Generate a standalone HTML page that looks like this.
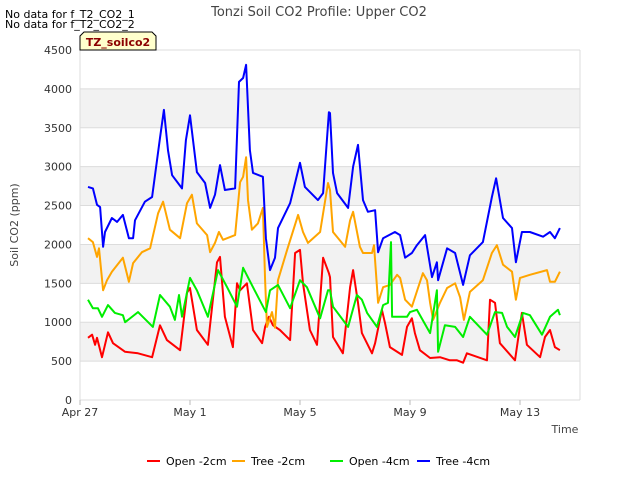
<!DOCTYPE html>
<html><head><meta charset="utf-8"><style>
body{margin:0;background:#fff;font-family:"Liberation Sans","DejaVu Sans",sans-serif;}
svg text{font-family:"DejaVu Sans","Liberation Sans",sans-serif;}
</style></head><body>
<svg id="chart" width="640" height="480" xmlns="http://www.w3.org/2000/svg">
<rect width="640" height="480" fill="#fff"/>
<g id="bands"></g>
<g id="grid"></g>
<g id="series"></g>
<g id="axes"></g>
<text x="319" y="16" text-anchor="middle" font-size="13" fill="#444">Tonzi Soil CO2 Profile: Upper CO2</text>
<text x="5" y="18" font-size="11" fill="#000">No data for f_T2_CO2_1</text>
<text x="5" y="28" font-size="11" fill="#000">No data for f_T2_CO2_2</text>
<path d="M80,50 L80,36 L84,32 L152,32 L156,36 L156,50 Z" fill="#ffffcc" stroke="#000" stroke-width="1"/>
<text x="118" y="46" text-anchor="middle" font-size="11" font-weight="bold" fill="#8b0000">TZ_soilco2</text>
<text transform="translate(18,225) rotate(-90)" text-anchor="middle" font-size="11" fill="#444">Soil CO2 (ppm)</text>
<text x="565" y="433" text-anchor="middle" font-size="11" fill="#444">Time</text>
<g id="legend"></g>
</svg>
<script>
const yTicks=[0,500,1000,1500,2000,2500,3000,3500,4000,4500];
const xTickDays=[0,4,8,12,16];
const xTickLabels=["Apr 27","May 1","May 5","May 9","May 13"];
const seriesNames=["Open -2cm","Tree -2cm","Open -4cm","Tree -4cm"];
const seriesColors=["#ff0000","#ffa500","#00ee00","#0000ff"];

const tOpen2=[0.29,0.44,0.55,0.62,0.80,1.02,1.2,1.64,2.11,2.62,2.91,3.16,3.64,3.89,4.0,4.25,4.65,4.98,5.09,5.27,5.56,5.71,5.82,6.07,6.29,6.62,6.73,6.87,7.02,7.27,7.64,7.82,8.0,8.11,8.36,8.62,8.84,9.05,9.09,9.2,9.56,9.82,9.93,10.11,10.25,10.62,10.73,10.98,11.09,11.27,11.71,11.89,12.07,12.18,12.36,12.73,13.09,13.45,13.71,13.93,14.07,14.8,14.91,15.09,15.27,15.82,16.07,16.25,16.73,16.91,17.09,17.27,17.45];
const vOpen2=[800,840,710,800,550,870,730,620,600,550,960,770,640,1380,1440,900,710,1770,1840,1070,680,1500,1410,1500,900,730,940,1070,960,900,770,1890,1930,1500,900,710,1830,1630,1580,810,600,1450,1670,1250,860,600,730,1160,990,680,580,940,1050,860,640,540,550,510,510,480,600,510,1290,1250,730,510,1120,710,550,810,900,680,640];

const tTree2=[0.29,0.47,0.62,0.69,0.84,0.98,1.16,1.56,1.78,1.93,2.25,2.55,2.84,3.02,3.27,3.64,3.89,4.07,4.25,4.62,4.73,4.91,5.05,5.2,5.64,5.82,5.93,6.04,6.11,6.25,6.47,6.65,6.73,6.8,6.98,7.09,7.2,7.53,7.93,8.11,8.29,8.73,9.02,9.09,9.2,9.64,9.82,9.93,10.18,10.29,10.62,10.69,10.84,11.02,11.27,11.53,11.64,11.82,12.07,12.29,12.47,12.62,12.73,12.84,13.09,13.35,13.64,13.82,13.96,14.18,14.65,14.98,15.16,15.38,15.71,15.85,16.0,16.36,16.98,17.09,17.27,17.45];
const vTree2=[2080,2030,1840,1950,1410,1540,1650,1830,1520,1760,1900,1950,2400,2550,2190,2080,2530,2640,2270,2120,1900,2020,2160,2060,2120,2800,2870,3120,2570,2190,2270,2470,1540,940,1130,930,1540,1930,2380,2160,2020,2160,2790,2700,2160,1970,2310,2420,1970,1890,1890,1990,1250,1450,1480,1610,1570,1290,1200,1440,1630,1540,1250,1030,1250,1440,1500,1320,1030,1390,1540,1890,1990,1740,1650,1290,1570,1610,1670,1520,1520,1650];

const tOpen4=[0.29,0.47,0.65,0.80,1.02,1.27,1.56,1.64,2.11,2.65,2.91,3.27,3.45,3.6,3.71,4.0,4.25,4.65,5.02,5.35,5.71,5.93,6.29,6.76,6.91,7.2,7.64,8.0,8.25,8.73,9.02,9.09,9.2,9.75,10.07,10.25,10.44,10.8,11.02,11.2,11.31,11.35,11.56,11.89,12.0,12.25,12.73,12.98,13.02,13.27,13.64,13.93,14.18,14.8,15.09,15.35,15.53,15.82,16.11,16.36,16.8,17.09,17.38,17.45];
const vOpen4=[1290,1180,1180,1070,1220,1120,1090,1000,1130,940,1350,1200,1030,1350,1070,1570,1410,1070,1670,1450,1200,1700,1450,1130,1410,1480,1180,1540,1450,1050,1410,1410,1200,940,1350,1290,1120,940,1220,1250,2030,1070,1070,1070,1130,1160,860,1410,620,960,940,810,1070,840,1130,1120,940,810,1120,1090,840,1070,1160,1090];

const tTree4=[0.29,0.47,0.62,0.73,0.84,0.91,1.16,1.35,1.56,1.78,1.93,2.0,2.36,2.62,2.91,3.05,3.2,3.35,3.71,3.85,4.0,4.25,4.55,4.73,4.91,5.09,5.27,5.64,5.78,5.93,6.04,6.18,6.29,6.65,6.76,6.91,7.09,7.2,7.64,8.0,8.18,8.65,8.84,9.05,9.09,9.2,9.35,9.75,9.93,10.11,10.29,10.47,10.73,10.84,11.02,11.45,11.64,11.82,12.07,12.25,12.55,12.8,12.98,13.02,13.35,13.64,13.93,14.18,14.65,14.98,15.13,15.38,15.71,15.85,16.07,16.36,16.84,17.09,17.27,17.45];
const vTree4=[2740,2720,2510,2480,1970,2160,2340,2290,2380,2080,2080,2310,2550,2610,3370,3730,3210,2890,2720,3340,3660,2930,2790,2470,2640,3020,2700,2720,4090,4140,4310,3210,2920,2870,2080,1670,1830,2210,2530,3050,2740,2570,2660,3700,3690,2920,2660,2470,3000,3280,2570,2420,2440,1900,2080,2160,2120,1830,1890,1990,2120,1580,1770,1540,1950,1890,1480,1860,2030,2610,2850,2340,2210,1770,2160,2160,2100,2160,2080,2210];

const NS="http://www.w3.org/2000/svg";
const L=80,R=580,T=50,B=400,dayW=27.5,yMax=4500;
function xs(d){return L+d*dayW;}
function ys(v){return B-(v/yMax)*(B-T);}
function mk(tag,attrs,parent){const e=document.createElementNS(NS,tag);for(const k in attrs)e.setAttribute(k,attrs[k]);parent.appendChild(e);return e;}
const bands=document.getElementById('bands'),grid=document.getElementById('grid'),axes=document.getElementById('axes'),ser=document.getElementById('series'),leg=document.getElementById('legend');
for(let i=0;i<yTicks.length-1;i++){
  if(i%2===1){const r=mk('rect',{x:L,y:ys(yTicks[i+1]),width:R-L,height:ys(yTicks[i])-ys(yTicks[i+1]),fill:'#f2f2f2'},bands);
  
  }
}
yTicks.forEach(v=>{
  const g=mk('line',{x1:L,x2:R,y1:ys(v),y2:ys(v),stroke:'#dcdcdc','stroke-width':1},grid);
  
  
  const t=mk('text',{x:L-8,y:ys(v)+4,'text-anchor':'end','font-size':11,fill:'#333'},axes);
  t.textContent=v;
  
  
});
mk('line',{x1:R,x2:R,y1:T,y2:B,stroke:'#dcdcdc'},grid);
const ax=mk('line',{x1:L,x2:L,y1:T,y2:B,stroke:'#dcdcdc'},axes);


xTickDays.forEach((d,i)=>{
  const tk=mk('line',{x1:xs(d),x2:xs(d),y1:B,y2:B+5,stroke:'#bbb'},axes);
  
  
  const t=mk('text',{x:xs(d),y:B+16,'text-anchor':'middle','font-size':11,fill:'#333'},axes);
  t.textContent=xTickLabels[i];
  
  
});
const allT=[tOpen2,tTree2,tOpen4,tTree4],allV=[vOpen2,vTree2,vOpen4,vTree4];
const names=['line-open-2cm','line-tree-2cm','line-open-4cm','line-tree-4cm'];
allT.forEach((ts,s)=>{
  const d=ts.map((t,i)=>(i?'L':'M')+xs(t).toFixed(1)+','+ys(allV[s][i]).toFixed(1)).join(' ');
  const p=mk('path',{d:d,fill:'none',stroke:seriesColors[s],'stroke-width':2,'stroke-linejoin':'round'},ser);
  
  
});
const legX=[147,232,330,417];
seriesNames.forEach((n,i)=>{
  const g=mk('g',{},leg);
  
  
  mk('line',{x1:legX[i],x2:legX[i]+13,y1:461,y2:461,stroke:seriesColors[i],'stroke-width':2},g);
  const t=mk('text',{x:legX[i]+19,y:465,'font-size':11,fill:'#000'},g);
  t.textContent=n;
});
</script>
</body></html>
